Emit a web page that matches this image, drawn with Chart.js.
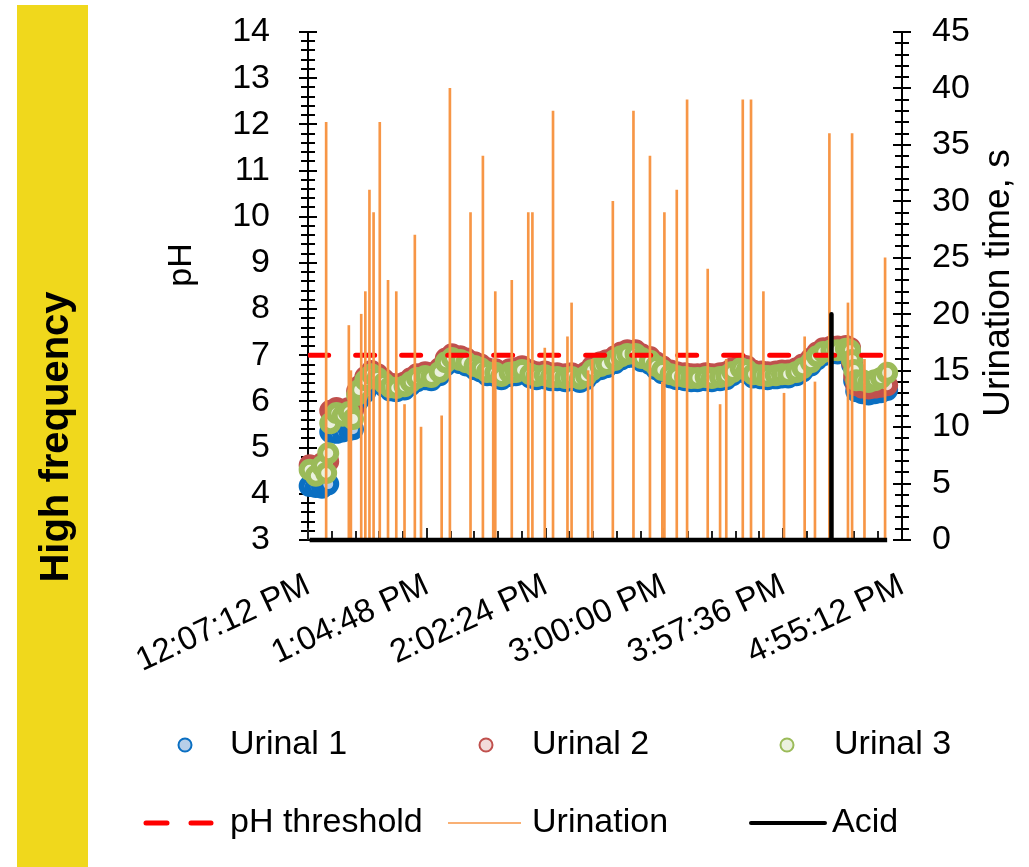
<!DOCTYPE html>
<html lang="en">
<head>
<meta charset="UTF-8">
<title>pH and urination - high frequency</title>
<script src="https://cdn.jsdelivr.net/npm/chart.js"></script>
<style>
  html, body { margin: 0; padding: 0; background: #fff; }
  #wrap { width: 1029px; height: 867px; }
</style>
</head>
<body>
<div id="wrap"><canvas id="grafico" width="1029" height="867"></canvas></div>
<script>
// pH sampling times (24 h clock)
const phTimes = [
  '12:08', '12:11', '12:14', '12:16', '12:17', '12:18', '12:21', '12:24', '12:27', '12:29',
  '12:31', '12:32', '12:35', '12:38', '12:41', '12:44', '12:47', '12:50', '12:54', '12:57',
  '13:00', '13:04', '13:07', '13:11', '13:14', '13:17', '13:21', '13:24', '13:28', '13:31',
  '13:34', '13:38', '13:41', '13:45', '13:48', '13:51', '13:55', '13:58', '14:02', '14:05',
  '14:08', '14:12', '14:15', '14:19', '14:22', '14:25', '14:29', '14:32', '14:36', '14:39',
  '14:42', '14:46', '14:49', '14:53', '14:56', '14:59', '15:03', '15:06', '15:10', '15:13',
  '15:16', '15:20', '15:23', '15:27', '15:30', '15:33', '15:37', '15:40', '15:43', '15:47',
  '15:50', '15:54', '15:57', '16:00', '16:04', '16:07', '16:11', '16:14', '16:17', '16:21',
  '16:24', '16:28', '16:30', '16:31', '16:32', '16:33', '16:36', '16:39', '16:42', '16:45',
  '16:48'
];
const urinal1 = [
  4.17, 4.15, 4.13, 4.19, 4.21, 5.34, 5.32, 5.35, 5.38, 5.40,
  5.98, 6.05, 6.20, 6.45, 6.44, 6.33, 6.24, 6.22, 6.26, 6.35,
  6.44, 6.48, 6.46, 6.57, 6.78, 6.87, 6.83, 6.78, 6.70, 6.65,
  6.57, 6.55, 6.48, 6.55, 6.57, 6.61, 6.52, 6.48, 6.50, 6.46,
  6.46, 6.44, 6.46, 6.42, 6.48, 6.61, 6.70, 6.74, 6.83, 6.91,
  6.96, 6.96, 6.87, 6.81, 6.70, 6.61, 6.52, 6.48, 6.46, 6.44,
  6.44, 6.46, 6.44, 6.46, 6.48, 6.57, 6.65, 6.61, 6.52, 6.50,
  6.48, 6.50, 6.52, 6.52, 6.57, 6.65, 6.78, 6.91, 7.00, 7.04,
  7.04, 7.07, 7.04, 6.80, 6.45, 6.22, 6.18, 6.15, 6.18, 6.20,
  6.25
];
const urinal2 = [
  4.62, 4.58, 4.66, 4.68, 4.70, 5.80, 5.86, 5.82, 5.86, 5.80,
  6.22, 6.33, 6.53, 6.66, 6.59, 6.48, 6.39, 6.37, 6.41, 6.50,
  6.59, 6.63, 6.61, 6.72, 6.93, 7.02, 6.98, 6.93, 6.85, 6.80,
  6.72, 6.70, 6.63, 6.70, 6.72, 6.76, 6.67, 6.63, 6.65, 6.61,
  6.61, 6.59, 6.61, 6.57, 6.63, 6.76, 6.85, 6.89, 6.98, 7.06,
  7.11, 7.11, 7.02, 6.96, 6.85, 6.76, 6.67, 6.63, 6.61, 6.59,
  6.59, 6.61, 6.59, 6.61, 6.63, 6.72, 6.80, 6.76, 6.67, 6.65,
  6.63, 6.65, 6.67, 6.67, 6.72, 6.80, 6.93, 7.06, 7.15, 7.19,
  7.19, 7.20, 7.16, 6.85, 6.55, 6.35, 6.30, 6.28, 6.30, 6.32,
  6.35
];
const urinal3 = [
  4.52, 4.39, 4.60, 4.45, 4.88, 5.53, 5.75, 5.69, 5.77, 5.62,
  6.14, 6.25, 6.46, 6.59, 6.51, 6.40, 6.31, 6.29, 6.33, 6.42,
  6.51, 6.55, 6.53, 6.64, 6.85, 6.94, 6.90, 6.85, 6.77, 6.72,
  6.64, 6.62, 6.55, 6.62, 6.64, 6.68, 6.59, 6.55, 6.57, 6.53,
  6.53, 6.51, 6.53, 6.49, 6.55, 6.68, 6.77, 6.81, 6.90, 6.98,
  7.03, 7.03, 6.94, 6.88, 6.77, 6.68, 6.59, 6.55, 6.53, 6.51,
  6.51, 6.53, 6.51, 6.53, 6.55, 6.64, 6.72, 6.68, 6.59, 6.57,
  6.55, 6.57, 6.59, 6.59, 6.64, 6.72, 6.85, 6.98, 7.07, 7.11,
  7.11, 7.14, 7.11, 6.90, 6.68, 6.46, 6.46, 6.42, 6.46, 6.51,
  6.62
];
const phThreshold = 7;

// urination events (24 h clock) and their duration in seconds
const urinationTimes = [
  '12:16', '12:27', '12:28', '12:33', '12:35', '12:37', '12:39', '12:42', '12:46', '12:50',
  '12:54', '12:59', '13:02', '13:12', '13:16', '13:26', '13:32', '13:37', '13:38', '13:46',
  '13:54', '13:56', '14:02', '14:06', '14:13', '14:15', '14:23', '14:25', '14:35', '14:45',
  '14:53', '14:59', '15:00', '15:06', '15:11', '15:21', '15:27', '15:30', '15:38', '15:42',
  '15:48', '15:58', '16:08', '16:13', '16:20', '16:29', '16:31', '16:37', '16:47'
];
const urinationSecs = [
  37, 19, 15, 20, 22, 31, 29, 37, 23, 22,
  12, 27, 10, 11, 40, 29, 34, 16, 22, 23,
  29, 29, 17, 38, 18, 21, 15, 16, 30, 38,
  34, 14, 29, 31, 39, 24, 12, 16, 39, 39,
  22, 13, 18, 14, 36, 21, 36, 16, 25
];

// acid dosing event
const acidTime = '16:21';
const acidLevel = 20;

// time axis labels
const xTickLabels = ['12:07:12 PM', '1:04:48 PM', '2:02:24 PM', '3:00:00 PM', '3:57:36 PM', '4:55:12 PM'];

const FONT = "'Liberation Sans', Arial, sans-serif";

// minutes after midnight
const toMin = s => {
  const [h, m, sec = 0] = s.split(':').map(Number);
  return h * 60 + m + sec / 60;
};
const labelToMin = s => {
  const [clock, ap] = s.split(' ');
  const [h, m, sec] = clock.split(':').map(Number);
  return (h % 12 + (ap === 'PM' ? 12 : 0)) * 60 + m + sec / 60;
};

const xTickValues = xTickLabels.map(labelToMin);
const tFirst = toMin(phTimes[0]);
const tLast = toMin(phTimes[phTimes.length - 1]);

const phPoints = arr => phTimes.map((t, i) => ({ x: toMin(t), y: arr[i] }));
const urinationPoints = urinationTimes.map((t, i) => ({ x: toMin(t), y: urinationSecs[i] }));
const acidPoints = [
  { x: tFirst, y: 0 },
  { x: toMin(acidTime), y: 0 },
  { x: toMin(acidTime), y: acidLevel },
  { x: toMin(acidTime), y: 0 },
  { x: tLast, y: 0 }
];

const markerSeries = (label, arr, border, fill, order) => ({
  type: 'scatter',
  label: label,
  data: phPoints(arr),
  yAxisID: 'y',
  pointRadius: 8,
  pointBorderWidth: 6,
  pointBorderColor: border,
  pointBackgroundColor: fill,
  clip: false,
  order: order
});

// background, side band
const framePlugin = {
  id: 'frame',
  beforeDraw(chart) {
    const ctx = chart.ctx;
    ctx.save();
    ctx.fillStyle = '#fff';
    ctx.fillRect(0, 0, chart.width, chart.height);
    ctx.fillStyle = '#f0d81c';
    ctx.fillRect(17, 5, 71, chart.height - 5);
    ctx.translate(57, 437);
    ctx.rotate(-Math.PI / 2);
    ctx.fillStyle = '#000';
    ctx.font = 'bold 40px ' + FONT;
    ctx.textAlign = 'center';
    ctx.textBaseline = 'middle';
    ctx.fillText('High frequency', 0, 0);
    ctx.restore();
  }
};

// axis lines with cross tick marks
const axesPlugin = {
  id: 'axesTicks',
  beforeDatasetsDraw(chart) {
    const { ctx, chartArea: a, scales } = chart;
    const y = scales.y, y2 = scales.y2, x = scales.x;
    ctx.save();
    ctx.strokeStyle = '#000';
    ctx.lineWidth = 2;
    ctx.beginPath();
    ctx.moveTo(a.left, a.top - 1);
    ctx.lineTo(a.left, a.bottom);
    ctx.moveTo(a.right, a.top - 1);
    ctx.lineTo(a.right, a.bottom);
    for (let i = 0; i <= 55; i++) {
      const py = Math.round(y.getPixelForValue(3 + i * 0.2));
      const h = i % 5 === 0 ? 9 : 7;
      ctx.moveTo(a.left - h, py);
      ctx.lineTo(a.left + h, py);
    }
    for (let i = 0; i <= 45; i++) {
      const py = Math.round(y2.getPixelForValue(i));
      const h = i % 5 === 0 ? 9 : 7;
      ctx.moveTo(a.right - h, py);
      ctx.lineTo(a.right + h, py);
    }
    ctx.stroke();
    ctx.strokeStyle = '#222';
    ctx.beginPath();
    for (let k = 0; k < xTickValues.length - 1; k++) {
      for (let j = 0; j < 5; j++) {
        const v = xTickValues[k] + (xTickValues[k + 1] - xTickValues[k]) * j / 5;
        const px = Math.round(x.getPixelForValue(v));
        ctx.moveTo(px, a.bottom);
        ctx.lineTo(px, a.bottom - (j === 0 ? 12 : 9));
      }
    }
    ctx.stroke();
    ctx.restore();
  }
};

// axis titles and legend
const textPlugin = {
  id: 'titlesLegend',
  afterDraw(chart) {
    const ctx = chart.ctx;
    const ds = chart.data.datasets;
    ctx.save();
    ctx.fillStyle = '#000';
    ctx.font = '34px ' + FONT;
    ctx.textBaseline = 'middle';
    ctx.textAlign = 'center';

    ctx.save();
    ctx.translate(182, 265);
    ctx.rotate(-Math.PI / 2);
    ctx.fillText('pH', 0, 0);
    ctx.restore();

    ctx.save();
    ctx.font = '37px ' + FONT;
    ctx.translate(999, 283);
    ctx.rotate(-Math.PI / 2);
    ctx.fillText('Urination time, s', 0, 0);
    ctx.restore();

    ctx.textAlign = 'left';
    const row1 = 745, row2 = 823;
    [[2, 185, 230], [1, 486, 532], [0, 787, 834]].forEach(([i, mx, tx]) => {
      const d = ds[i];
      ctx.beginPath();
      ctx.arc(mx, row1, 6.5, 0, Math.PI * 2);
      ctx.fillStyle = d.pointBackgroundColor;
      ctx.fill();
      ctx.lineWidth = 2;
      ctx.strokeStyle = d.pointBorderColor;
      ctx.stroke();
      ctx.fillStyle = '#000';
      ctx.fillText(d.label, tx, row1);
    });

    const thr = ds[3], uri = ds[4], acid = ds[5];
    ctx.lineCap = 'round';
    ctx.strokeStyle = thr.borderColor;
    ctx.lineWidth = thr.borderWidth;
    ctx.beginPath();
    ctx.moveTo(146, row2); ctx.lineTo(167, row2);
    ctx.moveTo(191, row2); ctx.lineTo(211, row2);
    ctx.stroke();
    ctx.fillText(thr.label, 230, row2);

    ctx.lineCap = 'butt';
    ctx.strokeStyle = uri.backgroundColor;
    ctx.lineWidth = 1.5;
    ctx.beginPath();
    ctx.moveTo(448, row2); ctx.lineTo(521, row2);
    ctx.stroke();
    ctx.fillText(uri.label, 532, row2);

    ctx.strokeStyle = acid.borderColor;
    ctx.lineWidth = 4;
    ctx.lineCap = 'round';
    ctx.beginPath();
    ctx.moveTo(751, row2); ctx.lineTo(825, row2);
    ctx.stroke();
    ctx.fillText(acid.label, 832, row2);
    ctx.restore();
  }
};

// keep the plot box fixed: no extra room for half-labels
const fixVertical = width => s => {
  s.width = width;
  s.paddingTop = 0;
  s.paddingBottom = 0;
};

Chart.defaults.font.family = FONT;
Chart.defaults.color = '#000';

const ctx = document.getElementById('grafico');
const grafico = new Chart(ctx, {
  type: 'scatter',
  data: {
    datasets: [
      markerSeries('Urinal 3', urinal3, '#9bbb59', '#ebf1de', 3),
      markerSeries('Urinal 2', urinal2, '#c0504d', '#f2dcdb', 4),
      markerSeries('Urinal 1', urinal1, '#0a6fc2', '#b7cfe9', 5),
      {
        type: 'line',
        label: 'pH threshold',
        data: [{ x: tFirst, y: phThreshold }, { x: tLast, y: phThreshold }],
        yAxisID: 'y',
        borderColor: '#ff0000',
        borderWidth: 5,
        borderDash: [19, 27],
        borderCapStyle: 'round',
        pointRadius: 0,
        order: 2
      },
      {
        type: 'bar',
        label: 'Urination',
        data: urinationPoints,
        yAxisID: 'y2',
        backgroundColor: '#f79646',
        borderWidth: 0,
        barThickness: 2,
        order: 1
      },
      {
        type: 'line',
        label: 'Acid',
        data: acidPoints,
        yAxisID: 'y2',
        borderColor: '#000',
        borderWidth: 4.5,
        borderJoinStyle: 'round',
        pointRadius: 0,
        clip: false,
        order: 0
      }
    ]
  },
  options: {
    responsive: false,
    animation: false,
    devicePixelRatio: 1,
    layout: { padding: { left: 100, top: 32, right: 0, bottom: 0 } },
    plugins: { legend: { display: false }, tooltip: { enabled: false } },
    scales: {
      x: {
        type: 'linear',
        position: 'bottom',
        min: xTickValues[0],
        max: xTickValues[xTickValues.length - 1],
        offset: false,
        afterBuildTicks: s => { s.ticks = xTickValues.map(v => ({ value: v })); },
        ticks: {
          autoSkip: false,
          minRotation: 25,
          maxRotation: 25,
          padding: 26,
          font: { size: 33 },
          callback: (v, i) => xTickLabels[i]
        },
        grid: { display: false, drawTicks: false },
        border: { display: false },
        afterFit: s => { s.height = 327; }
      },
      y: {
        position: 'left',
        min: 3,
        max: 14,
        ticks: { stepSize: 1, autoSkip: false, padding: 38, font: { size: 34 } },
        grid: { display: false, drawTicks: false },
        border: { display: false },
        afterFit: fixVertical(208)
      },
      y2: {
        position: 'right',
        min: 0,
        max: 45,
        ticks: { stepSize: 5, autoSkip: false, padding: 30, font: { size: 34 } },
        grid: { display: false, drawTicks: false },
        border: { display: false },
        afterFit: fixVertical(127)
      }
    }
  },
  plugins: [framePlugin, axesPlugin, textPlugin]
});
</script>
</body>
</html>
